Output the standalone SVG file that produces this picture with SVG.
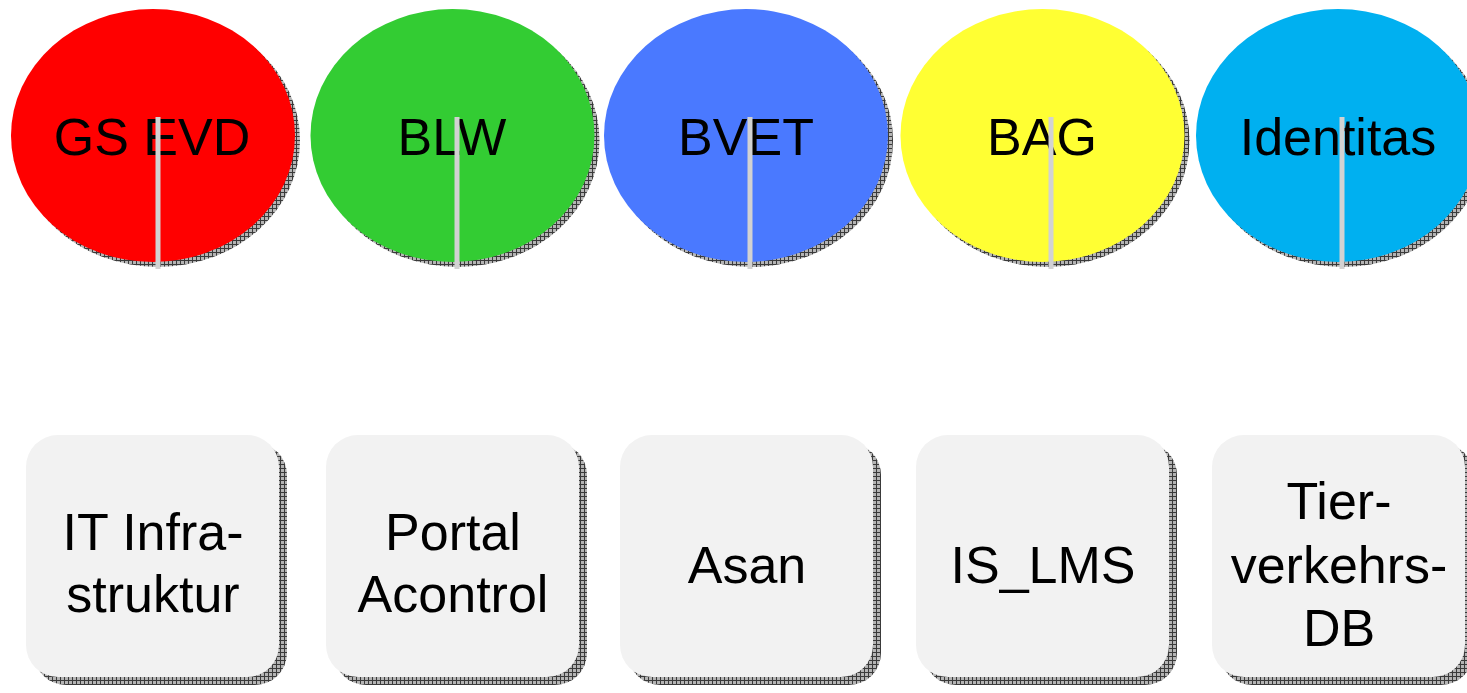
<svg xmlns="http://www.w3.org/2000/svg" width="1467" height="693" viewBox="0 0 1467 693">
<style>
text{font-family:"Liberation Sans",Arial,sans-serif;font-size:52px;fill:#000;text-anchor:middle}
.sh{fill:url(#hatch)}
.box{fill:#f2f2f2}
.stub{stroke:#d2d2d2;stroke-width:5;fill:none}
</style>
<defs>
<pattern id="hatch" width="4" height="4" patternUnits="userSpaceOnUse">
<rect width="4" height="4" fill="#b4b4b4"/>
<path d="M0 0.5H4M0.5 0V4" stroke="#3a3a3a" stroke-width="1"/>
</pattern>
</defs>
<rect width="1467" height="693" fill="#fff"/>
<g id="gs-evd">
<ellipse class="sh" cx="158" cy="140.5" rx="142" ry="126.5"/>
<ellipse cx="153" cy="135.5" rx="142" ry="126.5" fill="#ff0000"/>
<text x="152" y="155">GS EVD</text>
</g>
<g id="blw">
<ellipse class="sh" cx="457.5" cy="140.5" rx="142" ry="126.5"/>
<ellipse cx="452.5" cy="135.5" rx="142" ry="126.5" fill="#33cc33"/>
<text x="452" y="155">BLW</text>
</g>
<g id="bvet">
<ellipse class="sh" cx="751" cy="140.5" rx="142" ry="126.5"/>
<ellipse cx="746" cy="135.5" rx="142" ry="126.5" fill="#4a79ff"/>
<text x="746" y="155">BVET</text>
</g>
<g id="bag">
<ellipse class="sh" cx="1047.5" cy="140.5" rx="142" ry="126.5"/>
<ellipse cx="1042.5" cy="135.5" rx="142" ry="126.5" fill="#ffff33"/>
<text x="1042" y="155">BAG</text>
</g>
<g id="identitas">
<ellipse class="sh" cx="1343" cy="140.5" rx="142" ry="126.5"/>
<ellipse cx="1338" cy="135.5" rx="142" ry="126.5" fill="#00b0f0"/>
<text x="1338" y="155">Identitas</text>
</g>
<g id="it-infrastruktur">
<rect class="sh" x="34" y="443" width="253" height="242" rx="32"/>
<rect class="box" x="26" y="435" width="253" height="242" rx="32"/>
<text x="153" y="550">IT Infra-</text>
<text x="153" y="612">struktur</text>
</g>
<g id="portal-acontrol">
<rect class="sh" x="334" y="443" width="253" height="242" rx="32"/>
<rect class="box" x="326" y="435" width="253" height="242" rx="32"/>
<text x="453" y="550">Portal</text>
<text x="453" y="612">Acontrol</text>
</g>
<g id="asan">
<rect class="sh" x="628" y="443" width="253" height="242" rx="32"/>
<rect class="box" x="620" y="435" width="253" height="242" rx="32"/>
<text x="747" y="583">Asan</text>
</g>
<g id="is-lms">
<rect class="sh" x="924" y="443" width="253" height="242" rx="32"/>
<rect class="box" x="916" y="435" width="253" height="242" rx="32"/>
<text x="1043" y="583">IS_LMS</text>
</g>
<g id="tierverkehrs-db">
<rect class="sh" x="1220" y="443" width="253" height="242" rx="32"/>
<rect class="box" x="1212" y="435" width="253" height="242" rx="32"/>
<text x="1339" y="519">Tier-</text>
<text x="1339" y="583">verkehrs-</text>
<text x="1339" y="646">DB</text>
</g>
<g id="connectors">
<line class="stub" x1="158" y1="117" x2="158" y2="269"/>
<line class="stub" x1="457" y1="117" x2="457" y2="269"/>
<line class="stub" x1="750" y1="117" x2="750" y2="269"/>
<line class="stub" x1="1051" y1="117" x2="1051" y2="269"/>
<line class="stub" x1="1342" y1="117" x2="1342" y2="269"/>
</g>
</svg>
